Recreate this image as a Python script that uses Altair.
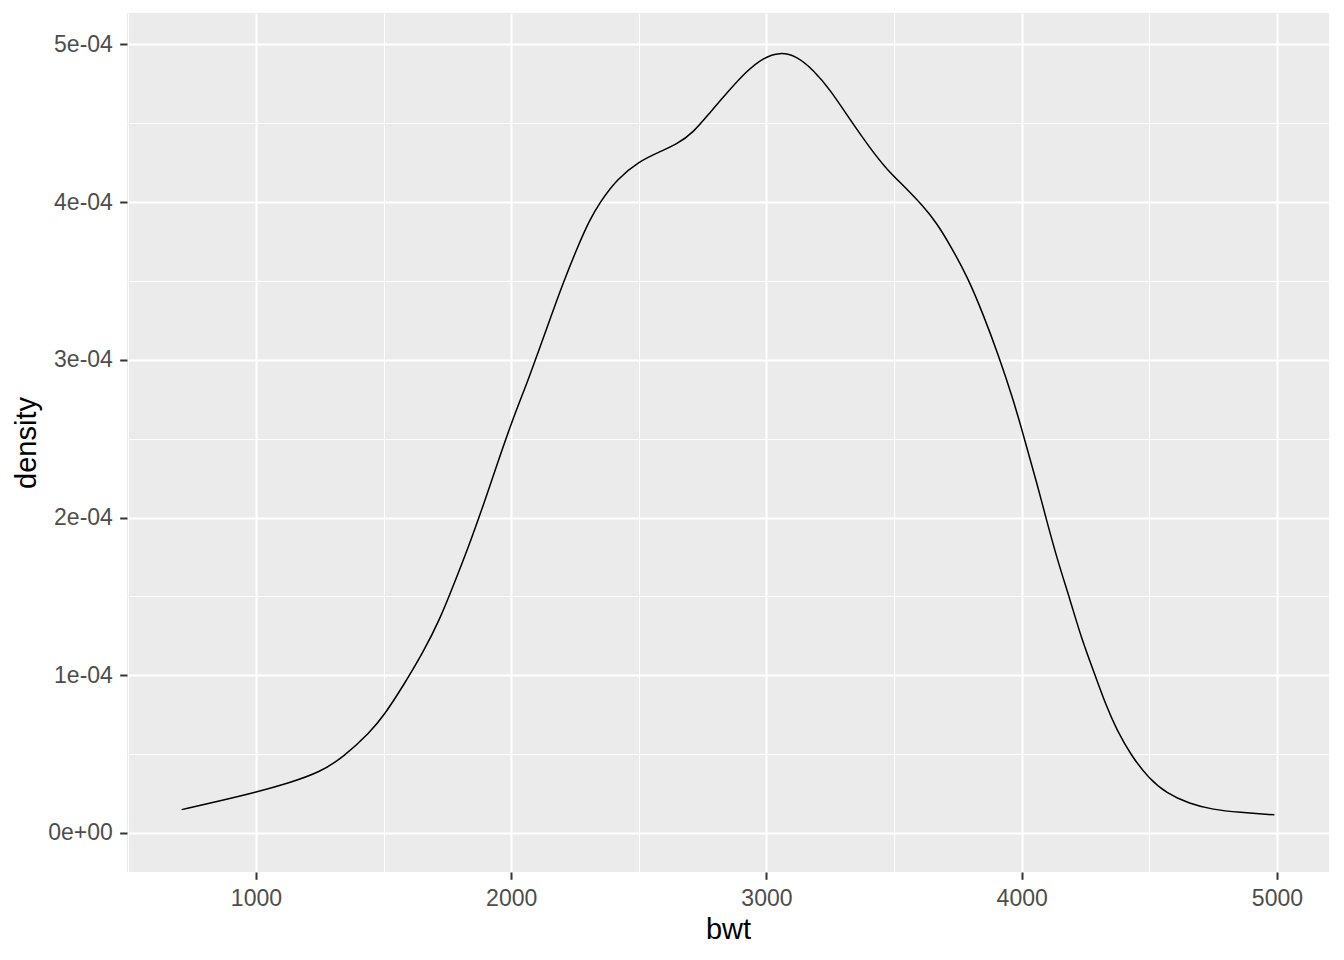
import altair as alt
import pandas as pd

# density curve of birth weight
bwt = [709, 850, 1000, 1130, 1251, 1342, 1447, 1501, 1577, 1655, 1721, 1773,
       1832, 1890, 1943, 2001, 2073, 2138, 2204, 2256, 2308, 2347, 2413, 2502,
       2582, 2648, 2713, 2778, 2857, 2922, 2987, 3053, 3118, 3183, 3249, 3327,
       3405, 3470, 3540, 3614, 3666, 3718, 3790, 3849, 3908, 3967, 4013, 4059,
       4098, 4143, 4189, 4235, 4286, 4331, 4371, 4429, 4498, 4566, 4658, 4749,
       4853, 4990]
# density in units of 1e-4
density_e4 = [0.148, 0.20, 0.258, 0.317, 0.385, 0.48, 0.638, 0.743, 0.933, 1.145,
              1.356, 1.567, 1.81, 2.074, 2.328, 2.603, 2.898, 3.194, 3.49, 3.70,
              3.89, 3.997, 4.145, 4.26, 4.32, 4.366, 4.44, 4.567, 4.715, 4.83,
              4.916, 4.952, 4.927, 4.84, 4.715, 4.525, 4.345, 4.21, 4.10, 3.975,
              3.87, 3.733, 3.52, 3.289, 3.035, 2.75, 2.486, 2.222, 1.98, 1.715,
              1.483, 1.229, 1.008, 0.807, 0.659, 0.490, 0.347, 0.253, 0.184,
              0.148, 0.131, 0.115]

x_ticks = [500, 1000, 1500, 2000, 2500, 3000, 3500, 4000, 4500, 5000]
y_ticks = [0, 0.5e-4, 1e-4, 1.5e-4, 2e-4, 2.5e-4, 3e-4, 3.5e-4, 4e-4, 4.5e-4, 5e-4]

df = pd.DataFrame({"bwt": bwt, "density": [d * 1e-4 for d in density_e4]})

# ggplot-style 5% expansion
x_span = max(bwt) - min(bwt)
x_dom = [min(bwt) - 0.05 * x_span, max(bwt) + 0.05 * x_span]
y_max = df["density"].max()
y_dom = [-0.05 * y_max, y_max * 1.05]

x_major = "datum.value % 1000 == 0"
y_major = "abs(datum.value * 1e4 - round(datum.value * 1e4)) < 1e-6"

chart = alt.Chart(df).mark_line(color="black", strokeWidth=1.5, interpolate="basis").encode(
    x=alt.X("bwt:Q", title="bwt",
            scale=alt.Scale(domain=x_dom, nice=False, zero=False),
            axis=alt.Axis(values=x_ticks, labelPadding=8, titlePadding=5, labelFlush=False,
                          labelExpr=f"{x_major} ? format(datum.value, 'd') : ''",
                          gridWidth={"condition": {"test": x_major, "value": 2}, "value": 1},
                          tickOpacity={"condition": {"test": x_major, "value": 1}, "value": 0})),
    y=alt.Y("density:Q", title="density",
            scale=alt.Scale(domain=y_dom, nice=False, zero=False),
            axis=alt.Axis(values=y_ticks, labelPadding=7.3, titlePadding=6.4,
                          labelExpr=f"{y_major} ? (datum.value == 0 ? '0e+00' : format(datum.value * 1e4, '.0f') + 'e-04') : ''",
                          gridWidth={"condition": {"test": y_major, "value": 2}, "value": 1},
                          tickOpacity={"condition": {"test": y_major, "value": 1}, "value": 0}))
).properties(
    width=1202,
    height=859,
    autosize=alt.AutoSizeParams(type="none"),
    padding={"left": 119, "top": 5, "right": 6, "bottom": 80}
).configure(
    font="Liberation Sans"
).configure_view(
    fill="#EBEBEB",
    strokeWidth=0
).configure_axis(
    domain=False,
    gridColor="white",
    tickColor="#333333",
    tickWidth=2,
    tickSize=7.3,
    labelColor="#4D4D4D",
    labelFontSize=23,
    labelOverlap=False,
    labelBound=False,
    titleColor="black",
    titleFontSize=29,
    titleFontWeight="normal"
)

chart.save("out.html", embed_options={"renderer": "svg", "actions": False})
